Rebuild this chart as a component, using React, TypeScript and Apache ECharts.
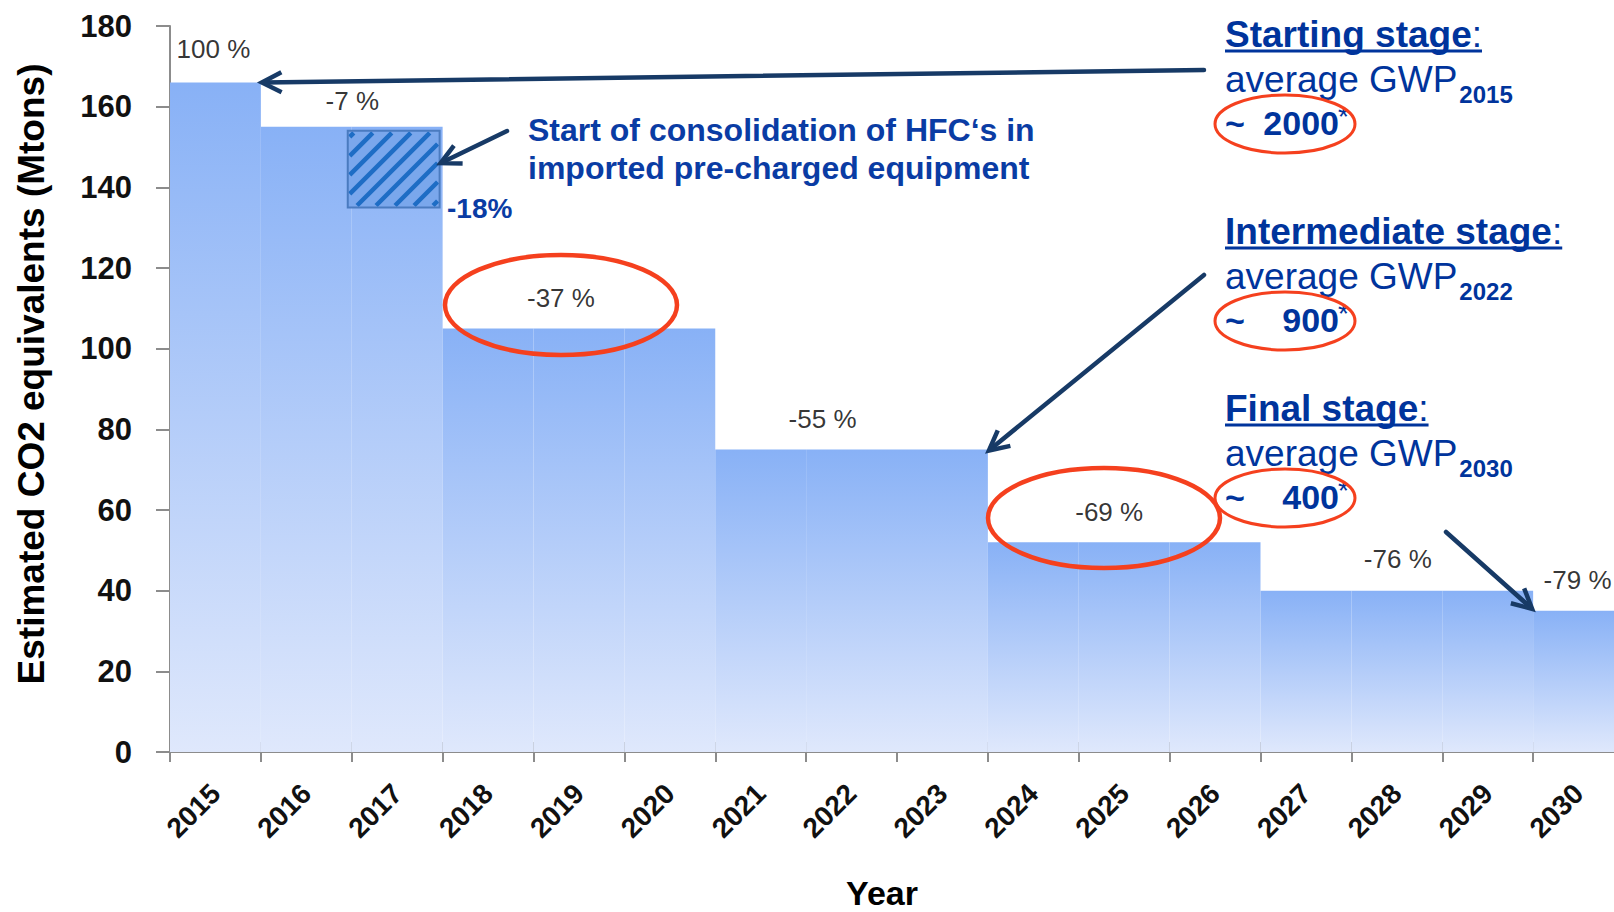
import React, { useEffect, useRef } from "react";
import * as echarts from "echarts";

// ---------------- data ----------------
const years = ["2015", "2016", "2017", "2018", "2019", "2020", "2021", "2022", "2023", "2024", "2025", "2026", "2027", "2028", "2029", "2030"];
const emissions = [166, 155, 155, 105, 105, 105, 75, 75, 75, 52, 52, 52, 40, 40, 40, 35];
const yMin = 0;
const yMax = 180;
const yStep = 20;

const stepLabelYears = ["2015", "2016", "2019", "2022", "2025", "2028", "2030"];
const stepLabels = ["100 %", "-7 %", "-37 %", "-55 %", "-69 %", "-76 %", "-79 %"];

const hfcYear = "2017";
const hfcRange = [135, 154];
const hfcLabel = "-18%";
const hfcNote = ["Start of consolidation of HFC\u2018s in", "imported pre-charged equipment"];

const stageTitles = ["Starting stage", "Intermediate stage", "Final stage"];
const stageYears = ["2015", "2022", "2030"];
const stageGwp = ["2000", "900", "400"];

const yTitle = "Estimated CO2 equivalents (Mtons)";
const xTitle = "Year";

// ---------------- styles ----------------
const FONT = '"Liberation Sans", Arial, Helvetica, sans-serif';
const NAVY = "#173a66";
const BLUE_TXT = "#00349c";
const RED = "#f5401e";
const AXIS_GRAY = "#8c8c8c";
const stepLabelOffsets = [[-2, -33], [46, -26], [-18, -31], [-29, -31], [-15, -30], [1, -32], [-1, -31]];

function measure(text: string, font: string): number {
  const c = document.createElement("canvas").getContext("2d");
  if (!c) return text.length * 10;
  c.font = font;
  return c.measureText(text).width;
}

function arrow(tail: number[], tip: number[]): any[] {
  const dx = tip[0] - tail[0];
  const dy = tip[1] - tail[1];
  const len = Math.hypot(dx, dy);
  const ux = dx / len;
  const uy = dy / len;
  const L = 22;
  const th = (27 * Math.PI) / 180;
  const c = Math.cos(th);
  const s = Math.sin(th);
  const a1 = [tip[0] - L * (ux * c - uy * s), tip[1] - L * (uy * c + ux * s)];
  const a2 = [tip[0] - L * (ux * c + uy * s), tip[1] - L * (uy * c - ux * s)];
  return [
    {
      type: "line",
      z: 100,
      shape: { x1: tail[0], y1: tail[1], x2: tip[0] - ux * 2, y2: tip[1] - uy * 2 },
      style: { stroke: NAVY, lineWidth: 4.5, lineCap: "round" },
    },
    {
      type: "polyline",
      z: 100,
      shape: { points: [a1, tip, a2] },
      style: { stroke: NAVY, lineWidth: 4.5, fill: "none", lineJoin: "miter" },
    },
  ];
}

export default function App() {
  const ref = useRef<HTMLDivElement>(null);

  useEffect(() => {
    if (!ref.current) return;
    const chart = echarts.init(ref.current, null, { renderer: "svg" });

    const labelData = stepLabelYears.map((y, i) => ({
      value: [y, emissions[years.indexOf(y)]],
      label: { formatter: stepLabels[i], offset: stepLabelOffsets[i] },
    }));

    const option: any = {
      animation: false,
      backgroundColor: "#ffffff",
      grid: { left: 170, right: 0, top: 26, bottom: 160 },
      xAxis: [
        {
          type: "category",
          data: years,
          boundaryGap: true,
          position: "bottom",
          axisLine: { show: true, lineStyle: { color: AXIS_GRAY, width: 2 } },
          axisTick: { show: true, inside: false, length: 10, lineStyle: { color: AXIS_GRAY, width: 2 } },
          axisLabel: {
            interval: 0,
            rotate: 45,
            margin: 17,
            align: "right",
            verticalAlign: "top",
            padding: [0, 14, 0, 0],
            fontFamily: FONT,
            fontWeight: "bold",
            fontSize: 28,
            color: "#111",
          },
          splitLine: { show: false },
        },
        {
          type: "category",
          data: years,
          boundaryGap: true,
          position: "bottom",
          axisLine: { show: false },
          axisTick: { show: true, inside: true, length: 10, lineStyle: { color: AXIS_GRAY, width: 2 } },
          axisLabel: { show: false },
          splitLine: { show: false },
        },
      ],
      yAxis: {
        type: "value",
        min: yMin,
        max: yMax,
        interval: yStep,
        axisLine: { show: true, lineStyle: { color: AXIS_GRAY, width: 2 } },
        axisTick: { show: true, inside: false, length: 14, lineStyle: { color: AXIS_GRAY, width: 2 } },
        axisLabel: {
          margin: 38,
          fontFamily: FONT,
          fontWeight: "bold",
          fontSize: 31,
          color: "#111",
        },
        splitLine: { show: false },
      },
      series: [
        {
          type: "bar",
          data: emissions,
          barCategoryGap: "0%",
          barGap: "0%",
          z: 2,
          itemStyle: {
            color: new echarts.graphic.LinearGradient(0, 0, 0, 1, [
              { offset: 0, color: "#88b1f6" },
              { offset: 1, color: "#dfe8fc" },
            ]),
          },
          silent: true,
        },
        {
          type: "custom",
          data: [[hfcYear, hfcRange[0], hfcRange[1]]],
          encode: { x: 0, y: [1, 2] },
          z: 5,
          silent: true,
          renderItem: (params: any, api: any) => {
            const lo = api.coord([api.value(0), api.value(1)]);
            const hi = api.coord([api.value(0), api.value(2)]);
            const bw = api.size([1, 0])[0];
            const x0 = hi[0] - bw / 2 - 4;
            const x1 = hi[0] + bw / 2 - 3;
            const y0 = hi[1];
            const y1 = lo[1];
            const children: any[] = [
              { type: "rect", shape: { x: x0, y: y0, width: x1 - x0, height: y1 - y0 }, style: { fill: "#7aa7ec" } },
            ];
            const step = 19;
            const inset = 2;
            for (let k = x0 + y0 + 8; k < x1 + y1; k += step) {
              const xa = Math.max(x0 + inset, k - (y1 - inset));
              const xb = Math.min(x1 - inset, k - (y0 + inset));
              if (xb - xa > 1) {
                children.push({
                  type: "line",
                  shape: { x1: xa, y1: k - xa, x2: xb, y2: k - xb },
                  style: { stroke: "#1e6dc5", lineWidth: 4.5 },
                });
              }
            }
            children.push({
              type: "rect",
              shape: { x: x0, y: y0, width: x1 - x0, height: y1 - y0 },
              style: { fill: "none", stroke: "#4a7bc0", lineWidth: 2 },
            });
            return { type: "group", children };
          },
        },
        {
          type: "scatter",
          data: labelData,
          symbolSize: 0,
          z: 6,
          silent: true,
          label: {
            show: true,
            position: "inside",
            fontFamily: FONT,
            fontSize: 26,
            color: "#000",
          },
        },
      ],
    };
    chart.setOption(option);

    // ---------- annotations (graphic) ----------
    const px = (cat: number, v: number) =>
      chart.convertToPixel({ xAxisIndex: 0, yAxisIndex: 0 }, [cat, v]) as number[];
    const band = px(1, 0)[0] - px(0, 0)[0];
    const g: any[] = [];

    // axis titles
    g.push({
      type: "text",
      z: 100,
      x: 31,
      y: 374,
      rotation: Math.PI / 2,
      style: { text: yTitle, font: `bold 37px ${FONT}`, fill: "#000", align: "center", verticalAlign: "middle" },
    });
    g.push({
      type: "text",
      z: 100,
      x: 882,
      y: 893,
      style: { text: xTitle, font: `bold 34px ${FONT}`, fill: "#000", align: "center", verticalAlign: "middle" },
    });

    // HFC note
    const hfcIdx = years.indexOf(hfcYear);
    const hfcRight = px(hfcIdx, 0)[0] + band / 2 - 3;
    g.push({
      type: "text",
      z: 100,
      x: 528,
      y: 130,
      style: { text: hfcNote[0], font: `bold 32px ${FONT}`, fill: "#0a3ca4", align: "left", verticalAlign: "middle" },
    });
    g.push({
      type: "text",
      z: 100,
      x: 528,
      y: 168,
      style: { text: hfcNote[1], font: `bold 32px ${FONT}`, fill: "#0a3ca4", align: "left", verticalAlign: "middle" },
    });
    g.push({
      type: "text",
      z: 100,
      x: 447,
      y: 208,
      style: { text: hfcLabel, font: `bold 28px ${FONT}`, fill: "#0a3ca4", align: "left", verticalAlign: "middle" },
    });

    // red ellipses around -37 % and -69 %
    g.push({ type: "ellipse", z: 100, shape: { cx: 561, cy: 305, rx: 116, ry: 50 }, style: { fill: "none", stroke: RED, lineWidth: 4.5 } });
    g.push({ type: "ellipse", z: 100, shape: { cx: 1104, cy: 518, rx: 116, ry: 50 }, style: { fill: "none", stroke: RED, lineWidth: 4.5 } });

    // stage boxes
    const titleY = [34, 231, 408];
    const titleFont = `bold 37px ${FONT}`;
    const colonFont = `37px ${FONT}`;
    const gwpFont = `37px ${FONT}`;
    stageTitles.forEach((t, i) => {
      const ty = titleY[i];
      const tw = measure(t, titleFont);
      const cw = measure(":", colonFont);
      g.push({ type: "text", z: 100, x: 1225, y: ty, style: { text: t, font: titleFont, fill: BLUE_TXT, align: "left", verticalAlign: "middle" } });
      g.push({ type: "text", z: 100, x: 1225 + tw, y: ty, style: { text: ":", font: colonFont, fill: BLUE_TXT, align: "left", verticalAlign: "middle" } });
      g.push({ type: "rect", z: 100, shape: { x: 1225, y: ty + 15.5, width: tw + cw, height: 3 }, style: { fill: BLUE_TXT } });
      const gy = ty + 45.5;
      const gw = measure("average GWP", gwpFont);
      g.push({ type: "text", z: 100, x: 1225, y: gy, style: { text: "average GWP", font: gwpFont, fill: BLUE_TXT, align: "left", verticalAlign: "middle" } });
      g.push({ type: "text", z: 100, x: 1225 + gw + 2, y: gy + 15, style: { text: stageYears[i], font: `bold 24px ${FONT}`, fill: BLUE_TXT, align: "left", verticalAlign: "middle" } });
      const ny = ty + 88.5;
      g.push({ type: "text", z: 100, x: 1225, y: ny, style: { text: "~", font: `bold 34px ${FONT}`, fill: BLUE_TXT, align: "left", verticalAlign: "middle" } });
      g.push({ type: "text", z: 100, x: 1339, y: ny, style: { text: stageGwp[i], font: `bold 34px ${FONT}`, fill: BLUE_TXT, align: "right", verticalAlign: "middle" } });
      g.push({ type: "text", z: 100, x: 1338, y: ny - 6, style: { text: "*", font: `28px ${FONT}`, fill: BLUE_TXT, align: "left", verticalAlign: "middle" } });
      g.push({ type: "ellipse", z: 100, shape: { cx: 1285, cy: ty + 90, rx: 70, ry: 29 }, style: { fill: "none", stroke: RED, lineWidth: 3 } });
    });

    // arrows
    const tip1 = [px(0, emissions[0])[0] + band / 2 + 1, px(0, emissions[0])[1]];
    const tip2 = [hfcRight + 1, px(hfcIdx, 146)[1]];
    const tip3 = [px(9, emissions[8])[0] - band / 2 + 1, px(9, emissions[8])[1] + 1];
    const tip4 = [px(15, emissions[15])[0] - band / 2 - 1, px(15, emissions[15])[1] - 2];
    g.push(...arrow([1204, 70], tip1));
    g.push(...arrow([507, 131], tip2));
    g.push(...arrow([1204, 275], tip3));
    g.push(...arrow([1446, 532], tip4));

    chart.setOption({ graphic: { elements: g } });

    return () => {
      chart.dispose();
    };
  }, []);

  return (
    <div style={{ position: "fixed", left: 0, top: 0, width: 1614, height: 912, overflow: "hidden", background: "#fff" }}>
      <div ref={ref} style={{ position: "absolute", left: 0, top: 0, width: 1624, height: 912 }} />
    </div>
  );
}
